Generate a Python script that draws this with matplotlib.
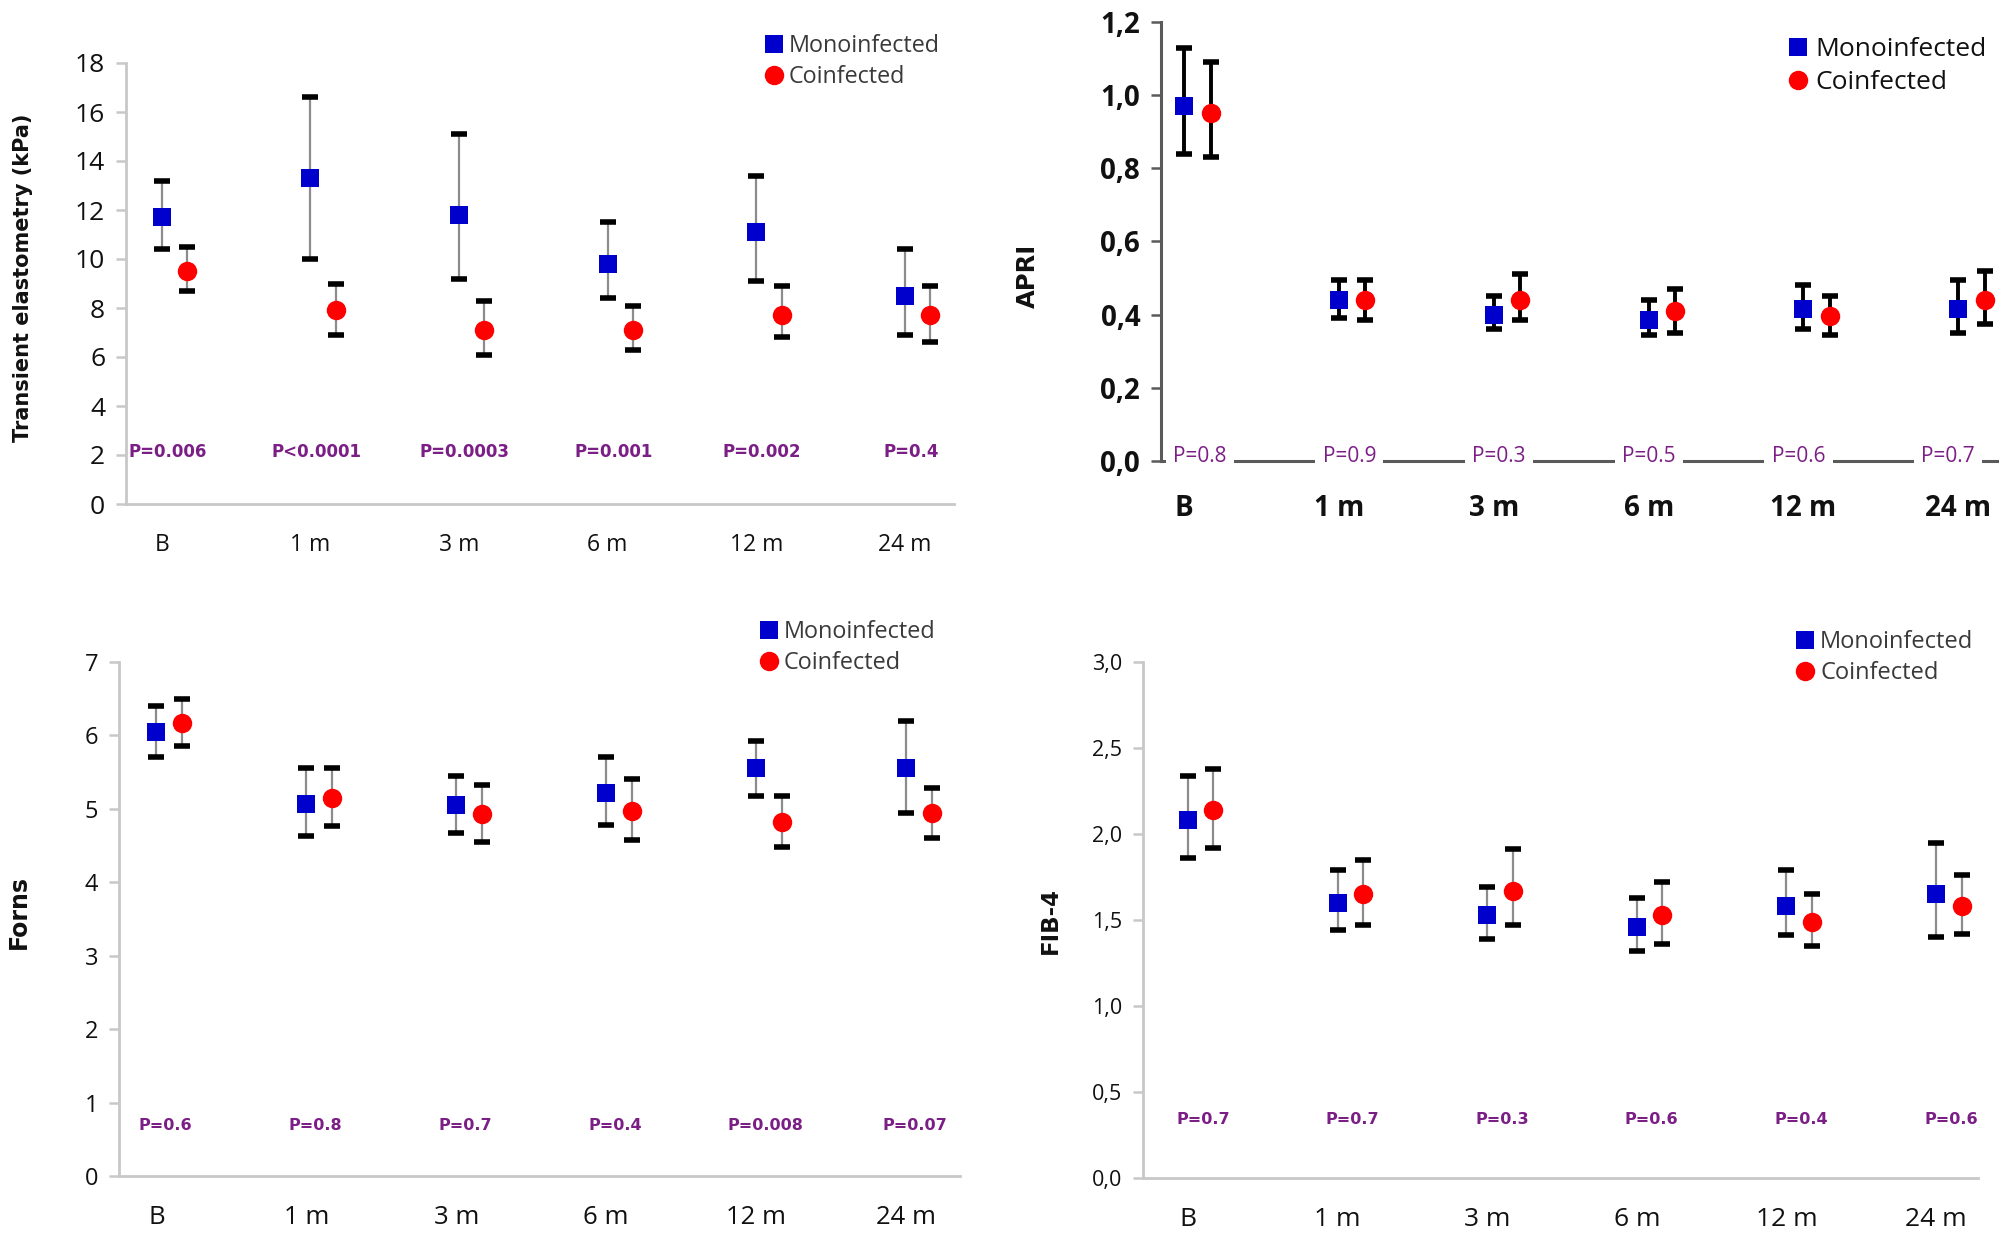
import matplotlib
matplotlib.use("Agg")
import matplotlib.pyplot as plt
from matplotlib.lines import Line2D

plt.rcParams['font.family'] = ['Open Sans', 'DejaVu Sans']

categories = ["B", "1 m", "3 m", "6 m", "12 m", "24 m"]

# Transient elastometry (kPa)
te_mono = [11.7, 13.3, 11.8, 9.8, 11.1, 8.5]
te_mono_lo = [10.4, 10.0, 9.2, 8.4, 9.1, 6.9]
te_mono_hi = [13.2, 16.6, 15.1, 11.5, 13.4, 10.4]
te_co = [9.5, 7.9, 7.1, 7.1, 7.7, 7.7]
te_co_lo = [8.7, 6.9, 6.1, 6.3, 6.8, 6.6]
te_co_hi = [10.5, 9.0, 8.3, 8.1, 8.9, 8.9]
te_p = ["P=0.006", "P<0.0001", "P=0.0003", "P=0.001", "P=0.002", "P=0.4"]

# APRI
apri_mono = [0.97, 0.44, 0.40, 0.385, 0.415, 0.415]
apri_mono_lo = [0.84, 0.39, 0.36, 0.345, 0.36, 0.35]
apri_mono_hi = [1.13, 0.495, 0.45, 0.44, 0.48, 0.495]
apri_co = [0.95, 0.44, 0.44, 0.41, 0.395, 0.44]
apri_co_lo = [0.83, 0.385, 0.385, 0.35, 0.345, 0.375]
apri_co_hi = [1.09, 0.495, 0.51, 0.47, 0.45, 0.52]
apri_p = ["P=0.8", "P=0.9", "P=0.3", "P=0.5", "P=0.6", "P=0.7"]

# Forns
forns_mono = [6.05, 5.07, 5.05, 5.22, 5.55, 5.55]
forns_mono_lo = [5.70, 4.63, 4.67, 4.78, 5.17, 4.95]
forns_mono_hi = [6.40, 5.55, 5.45, 5.70, 5.93, 6.20]
forns_co = [6.17, 5.15, 4.93, 4.97, 4.82, 4.95]
forns_co_lo = [5.85, 4.77, 4.55, 4.58, 4.48, 4.60]
forns_co_hi = [6.50, 5.55, 5.33, 5.40, 5.18, 5.28]
forns_p = ["P=0.6", "P=0.8", "P=0.7", "P=0.4", "P=0.008", "P=0.07"]

# FIB-4
fib_mono = [2.08, 1.60, 1.53, 1.46, 1.58, 1.65]
fib_mono_lo = [1.86, 1.44, 1.39, 1.32, 1.41, 1.40]
fib_mono_hi = [2.34, 1.79, 1.69, 1.63, 1.79, 1.95]
fib_co = [2.14, 1.65, 1.67, 1.53, 1.49, 1.58]
fib_co_lo = [1.92, 1.47, 1.47, 1.36, 1.35, 1.42]
fib_co_hi = [2.38, 1.85, 1.91, 1.72, 1.65, 1.76]
fib_p = ["P=0.7", "P=0.7", "P=0.3", "P=0.6", "P=0.4", "P=0.6"]

W, H = 2007, 1239
fig = plt.figure(figsize=(W / 100, H / 100), dpi=100)

BLUE = "#0000CC"
RED = "#FF0000"
PURPLE = "#7B1F86"


def ax_rect(l, r, t, b):
    return [l / W, 1 - b / H, (r - l) / W, (b - t) / H]


def panel(rect, xlim, ylim, yticks, yfmt, mono, mlo, mhi, co, clo, chi, pvals, py,
          ylabel, ylab_xy, leg_xy, style, yfs, xfs, poff, pfs, lfs, ylfs,
          pstep=1.0, off=0.17):
    ax = fig.add_axes(ax_rect(*rect))
    x = list(range(len(categories)))
    xc = [i + off for i in x]
    dark = style == "dark"
    ecol = "black" if dark else "#8C8C8C"
    elw = 2.8 if dark else 1.6
    for xs, m, lo, hi, mk, col, ms in [(x, mono, mlo, mhi, "s", BLUE, 13),
                                       (xc, co, clo, chi, "o", RED, 14)]:
        yerr = [[mm - l for mm, l in zip(m, lo)], [h - mm for mm, h in zip(m, hi)]]
        _, caps, _ = ax.errorbar(xs, m, yerr=yerr, fmt="none", ecolor=ecol,
                                 elinewidth=elw, capsize=5.5, capthick=4, zorder=2)
        for c in caps:
            c.set_color("black")
            c.set_markeredgecolor("black")
        ax.plot(xs, m, linestyle="none", marker=mk, color=col, markersize=ms,
                markeredgewidth=0, zorder=3)
    ax.set_xlim(*xlim)
    ax.set_ylim(*ylim)
    ax.set_yticks(yticks)
    ax.set_yticklabels([yfmt(v) for v in yticks])
    ax.set_xticks(x)
    ax.set_xticklabels(categories)
    for s in ["top", "right"]:
        ax.spines[s].set_visible(False)
    scol = "#5A5A5A" if dark else "#C8C8C8"
    for s in ["left", "bottom"]:
        ax.spines[s].set_color(scol)
        ax.spines[s].set_linewidth(2.2 if dark else 2.0)
    ax.tick_params(axis="y", direction="out", length=7, width=1.8, color=scol,
                   labelsize=yfs, pad=8, labelcolor="#111111")
    ax.tick_params(axis="x", length=0, labelsize=xfs, pad=24 if dark else 21,
                   labelcolor="#111111")
    if dark:
        for t in ax.get_xticklabels() + ax.get_yticklabels():
            t.set_fontweight("bold")
    for i, p in enumerate(pvals):
        if dark:
            kw = dict(fontsize=pfs, fontweight="normal",
                      bbox=dict(boxstyle="square,pad=0.35", fc="white", ec="none"))
        else:
            kw = dict(fontsize=pfs, fontweight="bold", family="DejaVu Sans")
        ax.text(i * pstep + poff, py, p, zorder=4, ha="center", va="center",
                color=PURPLE, **kw)
    fig.text(ylab_xy[0] / W, 1 - ylab_xy[1] / H, ylabel, rotation=90, ha="center",
             va="center", fontsize=ylfs, fontweight="bold",
             family="DejaVu Sans", color="#111111")
    handles = [Line2D([], [], linestyle="none", marker="s", color=BLUE, markersize=13,
                      markeredgewidth=0),
               Line2D([], [], linestyle="none", marker="o", color=RED, markersize=14,
                      markeredgewidth=0)]
    ax.legend(handles, ["Monoinfected", "Coinfected"], loc="upper left",
              bbox_to_anchor=(leg_xy[0] / W, 1 - leg_xy[1] / H),
              bbox_transform=fig.transFigure, frameon=False,
              fontsize=lfs, handletextpad=0.15, labelspacing=0.3,
              borderaxespad=0, borderpad=0, handlelength=1.0,
              labelcolor="#111111" if dark else "#3A3A3A")
    return ax


int_fmt = lambda v: f"{v:g}"
comma1 = lambda v: f"{v:.1f}".replace(".", ",")

panel((126, 954, 63, 504), (-0.24, 5.33), (0, 18), list(range(0, 19, 2)), int_fmt,
      te_mono, te_mono_lo, te_mono_hi, te_co, te_co_lo, te_co_hi, te_p, 2.12,
      "Transient elastometry (kPa)", (23, 278), (762, 34), "light",
      yfs=19, xfs=16.5, poff=0.04, pfs=12, lfs=16.8, ylfs=15)

panel((1161, 1997, 22, 461), (-0.15, 5.25), (0, 1.2), [0, 0.2, 0.4, 0.6, 0.8, 1.0, 1.2],
      comma1, apri_mono, apri_mono_lo, apri_mono_hi, apri_co, apri_co_lo, apri_co_hi,
      apri_p, 0.012, "APRI", (1028, 276), (1785, 37), "dark",
      yfs=20, xfs=20, poff=0.1, pfs=15, lfs=19, ylfs=17.5, pstep=0.967)

panel((119, 960, 662, 1176), (-0.25, 5.36), (0, 7), list(range(0, 8)), int_fmt,
      forns_mono, forns_mono_lo, forns_mono_hi, forns_co, forns_co_lo, forns_co_hi,
      forns_p, 0.69, "Forns", (19, 912), (757, 620), "light",
      yfs=17, xfs=18.5, poff=0.06, pfs=11.5, lfs=16.9, ylfs=17)

panel((1143, 1978, 662, 1178), (-0.30, 5.28), (0, 3.0), [0, 0.5, 1.0, 1.5, 2.0, 2.5, 3.0],
      comma1, fib_mono, fib_mono_lo, fib_mono_hi, fib_co, fib_co_lo, fib_co_hi,
      fib_p, 0.34, "FIB-4", (1050, 920), (1793, 630), "light",
      yfs=15.5, xfs=19, poff=0.1, pfs=11.5, lfs=17, ylfs=16.5)

fig.savefig("out.png", dpi=100, facecolor="white")
